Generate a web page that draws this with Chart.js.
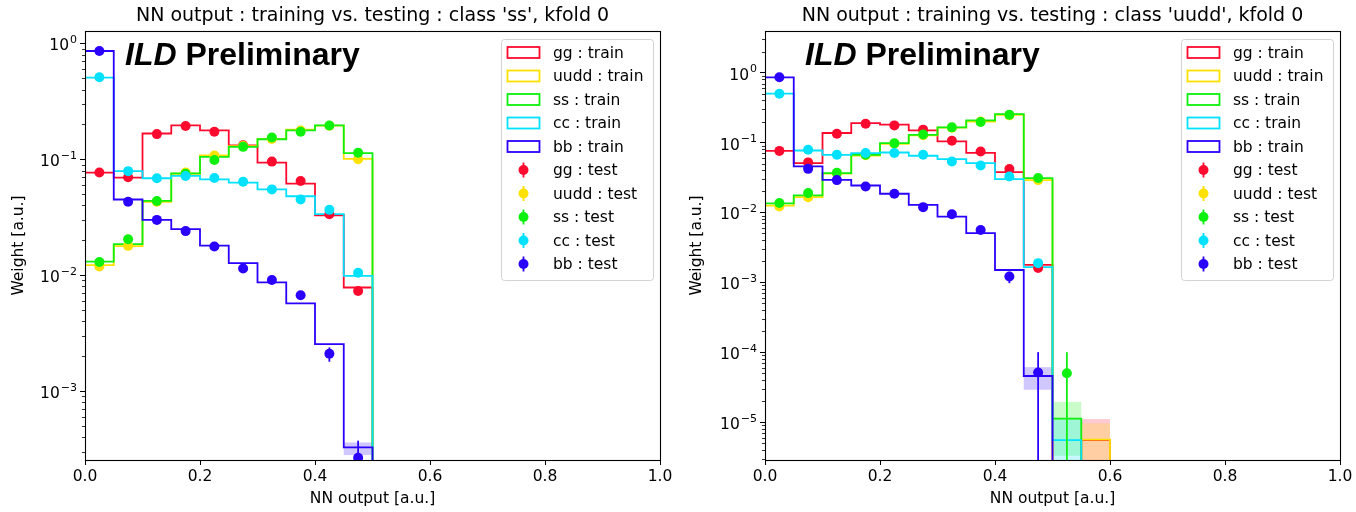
<!DOCTYPE html>
<html>
<head>
<meta charset="utf-8">
<script src="https://cdn.jsdelivr.net/npm/chart.js@4.4.1/dist/chart.umd.min.js"></script>
<style>
    body { margin: 0; background: #fff; width: 1356px; height: 512px; overflow: hidden; }
    .panel { position: absolute; top: 0; width: 678px; height: 512px; }
</style>
</head>
<body>
<div class="panel" style="left:0"><canvas id="leftChart" width="678" height="512"></canvas></div>
<div class="panel" style="left:678px"><canvas id="rightChart" width="678" height="512"></canvas></div>
<script>
// bins of the NN output histogram
const binEdges = [0, 0.05, 0.1, 0.15, 0.2, 0.25, 0.3, 0.35, 0.4, 0.45, 0.5,
                  0.55, 0.6, 0.65, 0.7, 0.75, 0.8, 0.85, 0.9, 0.95, 1.0];
const xTicks = [0, 0.2, 0.4, 0.6, 0.8, 1.0];
const classes = ['gg', 'uudd', 'ss', 'cc', 'bb'];
const colors = ['#ff0a2f', '#ffe100', '#0ef00e', '#00e1ff', '#2a00ff'];

// class 'ss' output
const ssTrainGG   = [0.0768, 0.0695, 0.167, 0.196, 0.178, 0.132, 0.0935, 0.0617, 0.0329, 0.00783, 0, 0, 0, 0, 0, 0, 0, 0, 0, 0];
const ssTrainUUDD = [0.0122, 0.0178, 0.043, 0.075, 0.108, 0.13, 0.15, 0.18, 0.195, 0.101, 0, 0, 0, 0, 0, 0, 0, 0, 0, 0];
const ssTrainSS   = [0.0131, 0.0185, 0.0437, 0.0757, 0.105, 0.128, 0.149, 0.178, 0.196, 0.113, 0, 0, 0, 0, 0, 0, 0, 0, 0, 0];
const ssTrainCC   = [0.506, 0.079, 0.0686, 0.072, 0.067, 0.063, 0.055, 0.048, 0.0336, 0.00986, 0, 0, 0, 0, 0, 0, 0, 0, 0, 0];
const ssTrainBB   = [0.86, 0.045, 0.030, 0.025, 0.018, 0.0127, 0.00865, 0.0057, 0.00254, 0.000327, 0, 0, 0, 0, 0, 0, 0, 0, 0, 0];
const ssTestGG    = [0.0768, 0.070, 0.165, 0.194, 0.173, 0.132, 0.0955, 0.065, 0.0336, 0.0073, 0, 0, 0, 0, 0, 0, 0, 0, 0, 0];
const ssTestUUDD  = [0.0119, 0.0179, 0.043, 0.077, 0.108, 0.13, 0.15, 0.177, 0.195, 0.100, 0, 0, 0, 0, 0, 0, 0, 0, 0, 0];
const ssTestSS    = [0.013, 0.0204, 0.0437, 0.075, 0.0986, 0.128, 0.154, 0.173, 0.196, 0.114, 0, 0, 0, 0, 0, 0, 0, 0, 0, 0];
const ssTestCC    = [0.51, 0.079, 0.0686, 0.0718, 0.069, 0.064, 0.055, 0.045, 0.0366, 0.0105, 0, 0, 0, 0, 0, 0, 0, 0, 0, 0];
const ssTestBB    = [0.86, 0.043, 0.030, 0.024, 0.0177, 0.0114, 0.0091, 0.0067, 0.0021, 0.000265, 0, 0, 0, 0, 0, 0, 0, 0, 0, 0];
// [class, bin, low, high]
const ssTestErr   = [['bb', 8, 0.00179, 0.00238], ['bb', 9, 0, 0.000373]];
const ssTrainBand = [['bb', 9, 0.00028, 0.00036]];

// class 'uudd' output
const udTrainGG   = [0.076, 0.0508, 0.137, 0.19, 0.18, 0.149, 0.104, 0.071, 0.0378, 0.00178, 0, 5.5e-6, 0, 0, 0, 0, 0, 0, 0, 0];
const udTrainUUDD = [0.0125, 0.0165, 0.036, 0.065, 0.096, 0.127, 0.163, 0.2, 0.25, 0.029, 0, 5.6e-6, 0, 0, 0, 0, 0, 0, 0, 0];
const udTrainSS   = [0.0135, 0.0175, 0.0366, 0.0668, 0.098, 0.129, 0.165, 0.207, 0.256, 0.031, 1.12e-5, 0, 0, 0, 0, 0, 0, 0, 0, 0];
const udTrainCC   = [0.5, 0.077, 0.0668, 0.0708, 0.072, 0.0647, 0.058, 0.0508, 0.030, 0.00165, 5.5e-6, 0, 0, 0, 0, 0, 0, 0, 0, 0];
const udTrainBB   = [0.857, 0.0455, 0.0293, 0.0243, 0.0185, 0.0128, 0.0087, 0.00505, 0.0015, 4.56e-5, 0, 0, 0, 0, 0, 0, 0, 0, 0, 0];
const udTestGG    = [0.076, 0.052, 0.134, 0.186, 0.176, 0.153, 0.106, 0.0746, 0.0417, 0.0016, 0, 0, 0, 0, 0, 0, 0, 0, 0, 0];
const udTestUUDD  = [0.0122, 0.0165, 0.036, 0.066, 0.096, 0.127, 0.163, 0.2, 0.245, 0.029, 0, 0, 0, 0, 0, 0, 0, 0, 0, 0];
const udTestSS    = [0.0136, 0.0189, 0.037, 0.067, 0.098, 0.13, 0.165, 0.197, 0.25, 0.031, 5e-5, 0, 0, 0, 0, 0, 0, 0, 0, 0];
const udTestCC    = [0.5, 0.079, 0.067, 0.071, 0.071, 0.067, 0.0537, 0.047, 0.0327, 0.00188, 0, 0, 0, 0, 0, 0, 0, 0, 0, 0];
const udTestBB    = [0.86, 0.042, 0.029, 0.0235, 0.0185, 0.0119, 0.0094, 0.0056, 0.00121, 5.1e-5, 0, 0, 0, 0, 0, 0, 0, 0, 0, 0];
const udTestErr   = [['bb', 8, 0.00097, 0.00142], ['bb', 9, 0, 1.0e-4], ['ss', 10, 0, 1.0e-4]];
const udTrainBand = [['bb', 9, 2.9e-5, 6.1e-5], ['ss', 10, 3.3e-6, 1.94e-5], ['cc', 10, 0, 1.1e-5],
                     ['gg', 11, 0, 1.1e-5], ['uudd', 11, 0, 9.6e-6]];

const FONT = 'DejaVu Sans';

function stepPoints(values) {
    const floor = 1e-12;
    const pts = [{ x: binEdges[0], y: floor }];
    values.forEach((v, i) => {
        const y = v > 0 ? v : floor;
        pts.push({ x: binEdges[i], y: y }, { x: binEdges[i + 1], y: y });
    });
    pts.push({ x: binEdges[binEdges.length - 1], y: floor });
    return pts;
}

function testPoints(values) {
    const pts = [];
    values.forEach((v, i) => {
        if (v > 0) pts.push({ x: (binEdges[i] + binEdges[i + 1]) / 2, y: v });
    });
    return pts;
}

function withAlpha(hex, a) {
    const n = parseInt(hex.slice(1), 16);
    return `rgba(${(n >> 16) & 255}, ${(n >> 8) & 255}, ${n & 255}, ${a})`;
}

// bands, error bars, frame, log labels, title and legend
const decorPlugin = {
    id: 'decor',
    beforeDatasetsDraw(chart) {
        const { ctx, chartArea: a, scales: { x, y } } = chart;
        const cfg = chart.options.plugins.decor;
        ctx.save();
        ctx.beginPath();
        ctx.rect(a.left, a.top, a.right - a.left, a.bottom - a.top);
        ctx.clip();
        cfg.bands.forEach(([cls, bin, lo, hi]) => {
            const c = colors[classes.indexOf(cls)];
            const x0 = x.getPixelForValue(binEdges[bin]);
            const x1 = x.getPixelForValue(binEdges[bin + 1]);
            const yTop = y.getPixelForValue(hi);
            const yBot = lo > 0 ? y.getPixelForValue(lo) : a.bottom + 2;
            ctx.fillStyle = withAlpha(c, 0.22);
            ctx.fillRect(x0, yTop, x1 - x0, yBot - yTop);
        });
        ctx.restore();
    },
    afterDatasetDraw(chart, args) {
        const ds = chart.data.datasets[args.index];
        if (!ds.errs) return;
        const { ctx, chartArea: a, scales: { x, y } } = chart;
        ctx.save();
        ctx.beginPath();
        ctx.rect(a.left, a.top, a.right - a.left, a.bottom - a.top);
        ctx.clip();
        ctx.strokeStyle = ds.backgroundColor;
        ctx.lineWidth = 1.8;
        ds.errs.forEach(([bin, lo, hi]) => {
            const px = x.getPixelForValue((binEdges[bin] + binEdges[bin + 1]) / 2);
            ctx.beginPath();
            ctx.moveTo(px, y.getPixelForValue(hi));
            ctx.lineTo(px, lo > 0 ? y.getPixelForValue(lo) : a.bottom + 2);
            ctx.stroke();
        });
        ctx.restore();
    },
    afterDraw(chart) {
        const { ctx, chartArea: a, scales: { y } } = chart;
        const cfg = chart.options.plugins.decor;
        ctx.save();
        // minor log ticks
        ctx.strokeStyle = '#000';
        ctx.lineWidth = 0.8;
        for (let d = Math.floor(Math.log10(y.min)); d <= Math.ceil(Math.log10(y.max)); d++) {
            for (let k = 2; k <= 9; k++) {
                const v = k * Math.pow(10, d);
                if (v < y.min || v > y.max) continue;
                const py = Math.round(y.getPixelForValue(v)) + 0.5;
                ctx.beginPath();
                ctx.moveTo(a.left - 3, py);
                ctx.lineTo(a.left, py);
                ctx.stroke();
            }
        }
        // 10^n labels with a raised exponent
        ctx.fillStyle = '#000';
        ctx.textAlign = 'left';
        ctx.textBaseline = 'alphabetic';
        y.ticks.forEach(t => {
            const py = y.getPixelForValue(t.value);
            const exp = String(Math.round(Math.log10(t.value))).replace('-', '\u2212');
            ctx.font = `15.5px "${FONT}"`;
            const wBase = ctx.measureText('10').width;
            ctx.font = `11px "${FONT}"`;
            const wExp = ctx.measureText(exp).width;
            const x0 = a.left - 8 - wBase - wExp - 1;
            ctx.font = `15.5px "${FONT}"`;
            ctx.fillText('10', x0, py + 7);
            ctx.font = `11px "${FONT}"`;
            ctx.fillText(exp, x0 + wBase + 1, py - 0.5);
        });
        // frame
        ctx.lineWidth = 1.1;
        ctx.strokeRect(Math.round(a.left) + 0.5, Math.round(a.top) + 0.5,
                       Math.round(a.right - a.left), Math.round(a.bottom - a.top));

        // title
        ctx.font = `19px "${FONT}"`;
        ctx.textAlign = 'center';
        ctx.fillText(cfg.title, (a.left + a.right) / 2, 21);

        // ILD Preliminary
        ctx.textAlign = 'left';
        ctx.font = 'italic bold 32px "Liberation Sans"';
        const lx = a.left + 40;
        ctx.fillText('ILD', lx, 65);
        const w = ctx.measureText('ILD').width;
        ctx.font = 'bold 32px "Liberation Sans"';
        ctx.fillText(' Preliminary', lx + w, 65);

        // legend
        const bx = a.right - 159, by = a.top + 8, bw = 152, bh = 241;
        ctx.beginPath();
        ctx.roundRect(bx + 0.5, by + 0.5, bw, bh, 3);
        ctx.fillStyle = 'rgba(255,255,255,0.8)';
        ctx.fill();
        ctx.strokeStyle = '#d3d3d3';
        ctx.lineWidth = 1;
        ctx.stroke();
        ctx.font = `15.5px "${FONT}"`;
        ctx.textBaseline = 'middle';
        const labels = classes.map(c => c + ' : train').concat(classes.map(c => c + ' : test'));
        labels.forEach((lab, i) => {
            const cy = by + 13.5 + i * 23.5;
            const c = colors[i % 5];
            ctx.strokeStyle = c;
            ctx.fillStyle = c;
            ctx.lineWidth = 1.8;
            if (i < 5) {
                ctx.strokeRect(bx + 6.5, cy - 5.5, 32, 11);
            } else {
                ctx.beginPath();
                ctx.moveTo(bx + 22.5, cy - 7.5);
                ctx.lineTo(bx + 22.5, cy + 7.5);
                ctx.stroke();
                ctx.beginPath();
                ctx.arc(bx + 22.5, cy, 5, 0, Math.PI * 2);
                ctx.fill();
            }
            ctx.fillStyle = '#000';
            ctx.fillText(lab, bx + 52, cy + 1);
        });
        ctx.restore();
    }
};

function makeChart(canvasId, title, train, test, errs, bands, yMin, yMax, yDecades, yWidth, padRight) {
    const datasets = [];
    train.forEach((vals, i) => {
        datasets.push({
            label: classes[i] + ' : train',
            data: stepPoints(vals),
            showLine: true,
            borderColor: colors[i],
            backgroundColor: colors[i],
            borderWidth: 1.8,
            borderJoinStyle: 'miter',
            pointRadius: 0,
            fill: false
        });
    });
    test.forEach((vals, i) => {
        datasets.push({
            label: classes[i] + ' : test',
            data: testPoints(vals),
            showLine: false,
            borderColor: colors[i],
            backgroundColor: colors[i],
            pointRadius: 5,
            pointBorderWidth: 0,
            errs: errs.filter(e => e[0] === classes[i]).map(e => e.slice(1))
        });
    });
    // first dataset should be painted first
    datasets.forEach((ds, k) => { ds.order = datasets.length - k; });

    const tickFont = { family: FONT, size: 15.5 };
    return new Chart(document.getElementById(canvasId), {
        type: 'scatter',
        data: { datasets },
        options: {
            responsive: false,
            animation: false,
            devicePixelRatio: 1,
            layout: { padding: { top: 31, right: padRight, left: 0, bottom: 0 } },
            plugins: {
                legend: { display: false },
                tooltip: { enabled: false },
                decor: { title, bands }
            },
            scales: {
                x: {
                    type: 'linear',
                    min: 0,
                    max: 1,
                    afterBuildTicks: s => { s.ticks = xTicks.map(v => ({ value: v })); },
                    afterFit: s => { s.height = 52; },
                    ticks: { font: tickFont, color: '#000', padding: 3, maxRotation: 0, autoSkip: false,
                             callback: v => Number(v).toFixed(1) },
                    grid: { drawOnChartArea: false, tickLength: 5, tickColor: '#000', tickWidth: 1 },
                    border: { display: false },
                    title: { display: true, text: 'NN output [a.u.]', font: tickFont, color: '#000',
                             padding: { top: 0, bottom: 4 } }
                },
                y: {
                    type: 'logarithmic',
                    min: yMin,
                    max: yMax,
                    afterBuildTicks: s => { s.ticks = yDecades.map(v => ({ value: v })); },
                    afterFit: s => { s.width = yWidth; },
                    // labels are painted by the plugin with a raised exponent
                    ticks: { font: tickFont, color: 'rgba(0,0,0,0)', padding: 3, callback: v => '10' },
                    grid: { drawOnChartArea: false, tickLength: 5, tickColor: '#000', tickWidth: 1 },
                    border: { display: false },
                    title: { display: true, text: 'Weight [a.u.]', font: tickFont, color: '#000',
                             padding: { top: 10, bottom: 0 } }
                }
            }
        },
        plugins: [decorPlugin]
    });
}

makeChart('leftChart', "NN output : training vs. testing : class 'ss', kfold 0",
    [ssTrainGG, ssTrainUUDD, ssTrainSS, ssTrainCC, ssTrainBB],
    [ssTestGG, ssTestUUDD, ssTestSS, ssTestCC, ssTestBB],
    ssTestErr, ssTrainBand, 2.54e-4, 1.28, [1e-3, 1e-2, 1e-1, 1], 85, 18);

makeChart('rightChart', "NN output : training vs. testing : class 'uudd', kfold 0",
    [udTrainGG, udTrainUUDD, udTrainSS, udTrainCC, udTrainBB],
    [udTestGG, udTestUUDD, udTestSS, udTestCC, udTestBB],
    udTestErr, udTrainBand, 2.86e-6, 3.95, [1e-5, 1e-4, 1e-3, 1e-2, 1e-1, 1], 87, 16);
</script>
</body>
</html>
